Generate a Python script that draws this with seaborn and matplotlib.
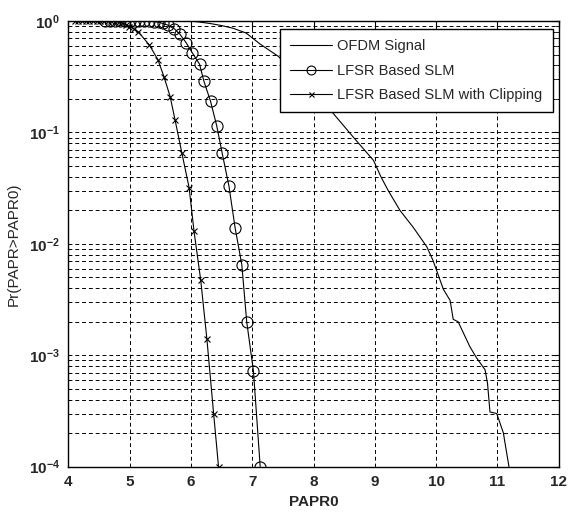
import numpy as np
import matplotlib
matplotlib.use("Agg")
import matplotlib.pyplot as plt
import seaborn as sns

# OFDM signal (no markers)
ofdm_x = [5.93, 6.10, 6.31, 6.50, 6.69, 6.90, 7.13, 7.43, 7.70, 7.97, 8.30, 8.64, 8.98,
          9.10, 9.22, 9.41, 9.63, 9.85, 9.95, 10.12, 10.23, 10.28, 10.36, 10.55, 10.66,
          10.80, 10.84, 10.88, 10.99, 11.10, 11.12, 11.19]
ofdm_y = [1.0, 0.985, 0.95, 0.91, 0.86, 0.78, 0.62, 0.48, 0.33, 0.22, 0.153, 0.092, 0.056,
          0.040, 0.030, 0.020, 0.014, 0.0094, 0.0071, 0.0039, 0.0031, 0.0021, 0.0020,
          0.0012, 0.00095, 0.00074, 0.00056, 0.00031, 0.00030, 0.00020, 0.00017, 0.0001]

# LFSR based SLM (circles)
slm_x = [4.60, 4.68, 4.76, 4.84, 4.92, 5.00, 5.08, 5.16, 5.24, 5.32, 5.40, 5.48, 5.54,
         5.62, 5.73, 5.82, 5.92, 6.02, 6.14, 6.21, 6.32, 6.42, 6.51, 6.62, 6.72, 6.83,
         6.91, 7.02, 7.13]
slm_y = [1.0, 1.0, 1.0, 1.0, 1.0, 0.999, 0.998, 0.997, 0.995, 0.992, 0.988, 0.975, 0.95,
         0.92, 0.85, 0.76, 0.64, 0.52, 0.41, 0.29, 0.19, 0.115, 0.065, 0.033, 0.014,
         0.0065, 0.0020, 0.00072, 0.0001]

# LFSR based SLM with clipping (crosses)
clip_x = [4.10, 4.16, 4.22, 4.28, 4.34, 4.40, 4.46, 4.52, 4.58, 4.64, 4.70, 4.76, 4.82,
          4.88, 4.94, 4.99, 5.07, 5.14, 5.32, 5.46, 5.56, 5.66, 5.74, 5.85, 5.97, 6.05,
          6.16, 6.26, 6.37, 6.45]
clip_y = [1.0, 1.0, 1.0, 1.0, 1.0, 1.0, 1.0, 0.999, 0.998, 0.996, 0.99, 0.985, 0.975,
          0.96, 0.93, 0.89, 0.85, 0.80, 0.61, 0.45, 0.316, 0.21, 0.13, 0.066, 0.032, 0.013,
          0.0047, 0.0014, 0.0003, 0.0001]

sns.set_style("white")
plt.rcParams['font.family'] = ['Liberation Sans', 'DejaVu Sans']

fig = plt.figure(figsize=(5.7, 5.12), dpi=100)
ax = fig.add_axes([0.12, 0.0885, 0.86, 0.8705])

sns.lineplot(x=ofdm_x, y=ofdm_y, ax=ax, color='black', lw=0.8, sort=False,
             estimator=None, label='OFDM Signal')
sns.lineplot(x=slm_x, y=slm_y, ax=ax, color='black', lw=0.8, sort=False, estimator=None,
             marker='o', markersize=8, markerfacecolor='none', markeredgecolor='black',
             markeredgewidth=0.8, label='LFSR Based SLM')
sns.lineplot(x=clip_x, y=clip_y, ax=ax, color='black', lw=0.8, sort=False, estimator=None,
             marker='x', markersize=4.5, markeredgecolor='black', markeredgewidth=0.8,
             label='LFSR Based SLM with Clipping')

ax.set_yscale('log')
ax.set_xlim(4, 12)
ax.set_ylim(1e-4, 1)
ax.set_xticks(range(4, 13))

# dashed grid, minor lines only on the log axis
ax.grid(True, which='major', axis='both', color='black', lw=0.7, ls=(0, (4, 3)))
ax.grid(True, which='minor', axis='y', color='black', lw=0.7, ls=(0, (4, 3)))
ax.set_axisbelow(True)

for sp in ax.spines.values():
    sp.set_color('black')
    sp.set_linewidth(1.0)
ax.tick_params(which='both', direction='in', top=True, right=True, color='black')
ax.tick_params(which='major', length=5, labelsize=11, pad=6)
ax.tick_params(which='minor', length=3)
for lab in ax.get_xticklabels() + ax.get_yticklabels():
    lab.set_fontweight('bold')

ax.set_xlabel('PAPR0', fontsize=11, fontweight='bold', labelpad=4)
ax.set_ylabel('Pr(PAPR>PAPR0)', fontsize=11, labelpad=6)

leg = ax.legend(loc='upper right', bbox_to_anchor=(0.988, 0.982), borderaxespad=0,
                fontsize=10.5, frameon=True, fancybox=False, framealpha=1,
                edgecolor='black', handlelength=2.9, handletextpad=0.35,
                labelspacing=0.72, borderpad=0.7, markerscale=0.8)
leg.get_frame().set_linewidth(1.0)

fig.savefig('out.png', dpi=100)
